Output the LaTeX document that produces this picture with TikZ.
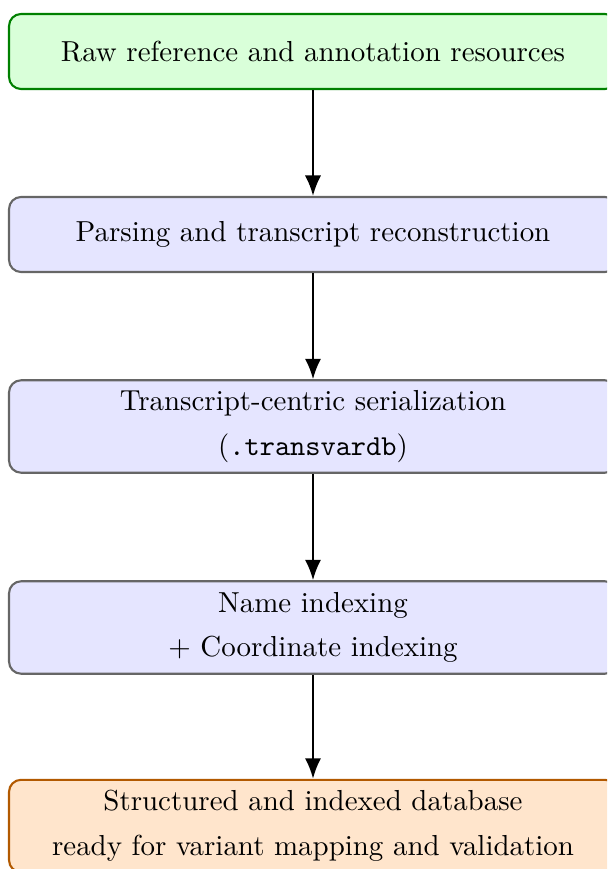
\documentclass[tikz,border=0pt]{standalone}
\usetikzlibrary{arrows.meta}
\begin{document}
\begin{tikzpicture}[x=0.3571pt,y=-0.3571pt,
  stage/.style={draw, rounded corners=4.3pt, line width=0.75pt, align=center,
    minimum width=217.1pt, inner sep=2pt, font=\fontsize{10.33}{12.4}\selectfont},
  single/.style={minimum height=26.8pt},
  double/.style={minimum height=33.0pt},
  sourcebox/.style={stage, fill=green!15, draw=green!50!black},
  procbox/.style={stage, fill=blue!10, draw=black!60},
  resultbox/.style={stage, fill=orange!20, draw=orange!70!black},
  flow/.style={-{Latex[length=7.3pt,width=5.8pt]}, line width=0.8pt}]
  \useasboundingbox (0,0) rectangle (607,869);
  \begin{scope}
    \clip (0,0) rectangle (607,869);
    \node[sourcebox, single] (raw) at (313,51.5) {Raw reference and annotation resources};
    \node[procbox, single] (parse) at (313,234.5) {Parsing and transcript reconstruction};
    \node[procbox, double] (serial) at (313,426.5) {Transcript-centric serialization\\[3.6pt](\texttt{.transvardb})};
    \node[procbox, double] (index) at (313,627.5) {Name indexing\\[3.6pt]+ Coordinate indexing};
    \node[resultbox, double] (db) at (313,826) {Structured and indexed database\\[3.6pt]ready for variant mapping and validation};
  \end{scope}
  \draw[flow] (raw) -- (parse);
  \draw[flow] (parse) -- (serial);
  \draw[flow] (serial) -- (index);
  \draw[flow] (index) -- (db);
\end{tikzpicture}
\end{document}
